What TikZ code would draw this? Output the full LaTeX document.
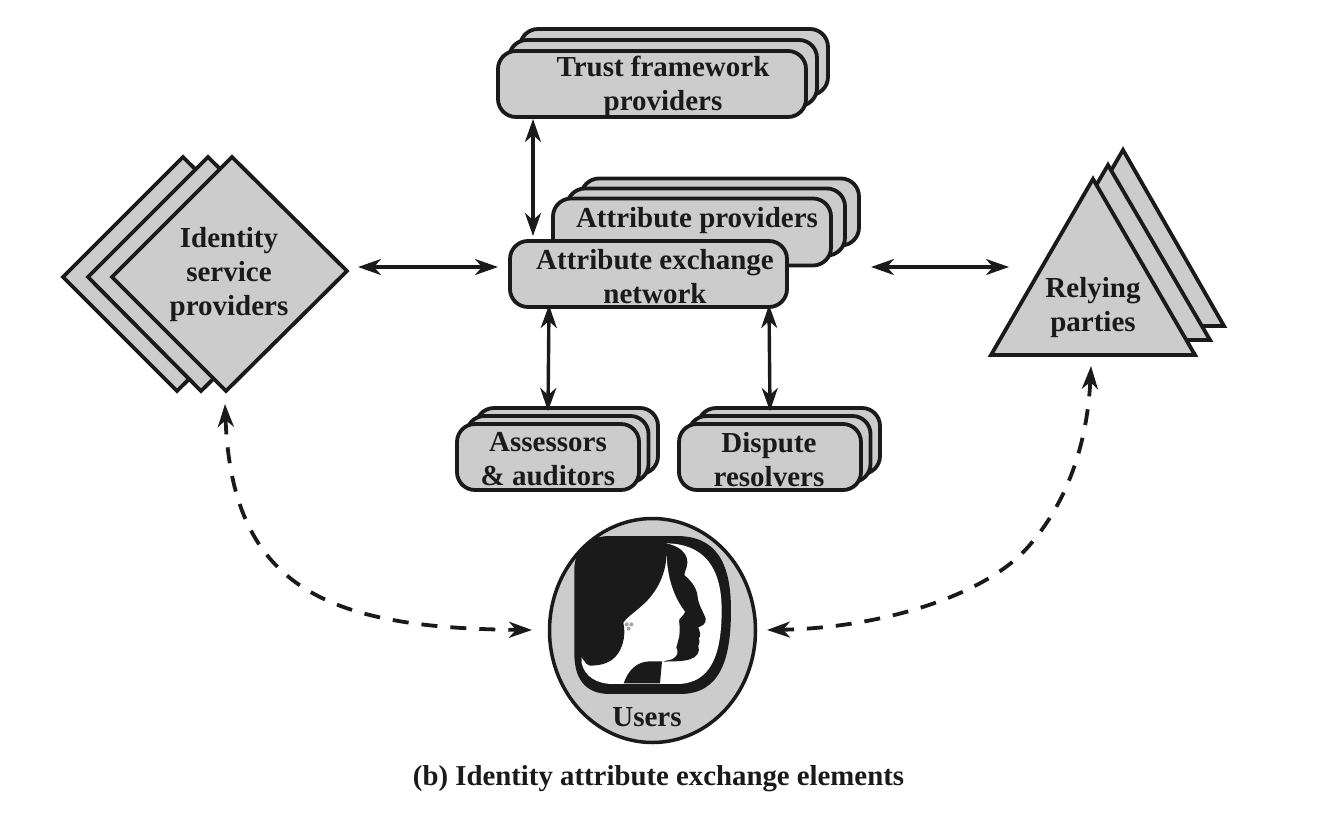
\documentclass[tikz,border=0pt]{standalone}
\usepackage{fontspec}
\setmainfont{Liberation Serif}
\usetikzlibrary{arrows.meta,shapes.geometric}
\definecolor{ink}{HTML}{1A1A1A}
\definecolor{panel}{HTML}{CCCCCC}
\tikzset{
  x=1pt,y=-1pt,
  box/.style={draw=ink,fill=panel,line width=3.8pt,rounded corners=18pt,inner sep=0pt,outer sep=0pt},
  shapeline/.style={draw=ink,fill=panel,line width=3.8pt,line join=miter},
  txt/.style={text=ink,font=\fontsize{29}{34}\selectfont\bfseries,align=center,inner sep=0pt},
  link/.style={draw=ink,line width=3.4pt,{Stealth[length=23pt,width=16pt,inset=7pt]}-{Stealth[length=23pt,width=16pt,inset=7pt]}},
  dlink/.style={draw=ink,line width=3.8pt,dash pattern=on 16pt off 13pt,{Stealth[length=23pt,width=16pt,inset=7pt]}-{Stealth[length=23pt,width=16pt,inset=7pt]}},
}
\begin{document}
\begin{tikzpicture}
\useasboundingbox (0,0) rectangle (1320,812);
% Trust framework providers
\node[box,minimum width=308pt,minimum height=66pt] (trust3) at (674,62) {};
\node[box,minimum width=308pt,minimum height=66pt] (trust2) at (663,73) {};
\node[box,minimum width=308pt,minimum height=66pt] (trust) at (652,84) {};
\node[txt] (trustt) at (663,86) {Trust framework\\providers};
% Attribute providers
\node[box,minimum width=278pt,minimum height=67pt] (attr3) at (720,212) {};
\node[box,minimum width=278pt,minimum height=67pt] (attr2) at (706,222) {};
\node[box,minimum width=278pt,minimum height=67pt] (attr) at (692,232) {};
\node[txt] (attrt) at (697,221) {Attribute providers};
% Exchange
\node[box,minimum width=277pt,minimum height=66pt] (exch) at (648.5,274) {};
\node[txt] (excht) at (655,276.5) {Attribute exchange\\network};
% Assessors
\node[box,minimum width=182pt,minimum height=66pt] (ass3) at (567,441) {};
\node[box,minimum width=182pt,minimum height=66pt] (ass2) at (557.5,449) {};
\node[box,minimum width=182pt,minimum height=66pt] (ass) at (548,457) {};
\node[txt] (asst) at (548,459.5) {Assessors\\\& auditors};
% Dispute
\node[box,minimum width=182pt,minimum height=66pt] (dis3) at (789,441) {};
\node[box,minimum width=182pt,minimum height=66pt] (dis2) at (779.5,449) {};
\node[box,minimum width=182pt,minimum height=66pt] (dis) at (770,457) {};
\node[txt] (dist) at (769,459.5) {Dispute\\resolvers};
% Identity service providers
\path[shapeline] (183,157) -- (298,271) -- (177,391) -- (63,277) -- cycle;
\path[shapeline] (208,157) -- (323,271) -- (201,391) -- (88,277) -- cycle;
\path[shapeline] (232,157) -- (347,271) -- (226,391) -- (112,277) -- cycle;
\node[txt] (ispt) at (229,275) {Identity\\service\\providers};
\coordinate (ispe) at (358,267);
\coordinate (isps) at (225,404);
% Relying parties
\path[shapeline] (1123,150) -- (1224,326) -- (1021,326) -- cycle;
\path[shapeline] (1108,165) -- (1210,340) -- (1006,340) -- cycle;
\path[shapeline] (1093,179) -- (1195,355) -- (991,355) -- cycle;
\node[txt] (relt) at (1093,307.5) {Relying\\parties};
\coordinate (relw) at (1009,267);
\coordinate (rels) at (1091,366);
\coordinate (relm) at (1028,547);
% Users
\node[draw=ink,fill=panel,line width=3.5pt,ellipse,minimum width=206pt,minimum height=224pt,inner sep=0pt,outer sep=0pt] (users) at (652.5,630.5) {};
\begin{scope}[shift={(530,520)},x=0.3333pt,y=-0.3333pt]
  \fill[ink] (240,48) -- (440,48) .. controls (560,48) and (603,130) .. (603,270)
    .. controls (603,420) and (570,522) .. (450,522) -- (240,522)
    .. controls (160,522) and (133,470) .. (133,400) -- (133,150)
    .. controls (133,90) and (170,48) .. (240,48) -- cycle;
  \fill[white] (250,70) -- (410,70) .. controls (520,72) and (575,140) .. (575,270)
    .. controls (575,400) and (545,492) .. (440,492) -- (250,492)
    .. controls (200,492) and (165,470) .. (155,430) -- (155,150) -- cycle;
  % second profile
  \fill[ink] (405,70) .. controls (445,75) and (475,100) .. (472,130)
    .. controls (470,150) and (462,155) .. (463,165)
    .. controls (480,180) and (500,200) .. (503,230)
    .. controls (505,255) and (520,275) .. (527,295)
    .. controls (530,312) and (515,318) .. (505,322)
    .. controls (512,340) and (512,350) .. (506,355)
    .. controls (512,365) and (506,372) .. (505,378)
    .. controls (512,395) and (500,412) .. (480,418)
    .. controls (465,423) and (445,424) .. (425,424)
    -- (400,425) -- (440,400) -- (430,250) -- (400,100) -- cycle;
  % front face (white)
  \fill[white] (410,105) .. controls (412,170) and (430,230) .. (465,275)
    .. controls (460,290) and (445,295) .. (447,303)
    .. controls (450,320) and (450,350) .. (444,362)
    .. controls (445,372) and (438,378) .. (438,383)
    .. controls (448,395) and (442,410) .. (425,418)
    -- (395,425) -- (300,425) -- (280,320) -- cycle;
  % shoulder
  \fill[ink] (281,490) .. controls (295,450) and (320,425) .. (360,424)
    -- (396,424) -- (390,490) -- cycle;
  % hair
  \fill[ink] (410,100) .. controls (408,170) and (375,225) .. (330,262)
    .. controls (310,280) and (290,292) .. (280,308)
    .. controls (290,350) and (275,400) .. (245,420)
    .. controls (225,434) and (200,437) .. (180,437)
    -- (170,432) -- (145,400) -- (145,150) -- (170,85) -- (230,60) -- (410,60) -- cycle;
  % earring
  \fill[panel!80!black] (290,313) circle[radius=6] (304,313) circle[radius=6] (296,326) circle[radius=6];
\end{scope}
\node[txt] (userst) at (647,717) {Users};
\coordinate (usw) at (532,630);
\coordinate (use) at (767,630);
% Caption
\node[txt,font=\fontsize{28.8}{34}\selectfont\bfseries] (caption) at (658.5,779) {(b) Identity attribute exchange elements};
% Connectors
\draw[link] ([shift={(35,2)}]trust.south west) -- ([shift={(23,-5)}]exch.north west);
\draw[link] (ispe) -- ([shift={(-12,-7)}]exch.west);
\draw[link] ([shift={(84,-7)}]exch.east) -- (relw);
\draw[link] ([shift={(39,-2)}]exch.south west) -- ([shift={(0,-13)}]ass.north);
\draw[link] ([shift={(-18,-2)}]exch.south east) -- ([shift={(0,-13)}]dis.north);
\draw[dlink] (isps) .. controls (232,590) and (330,628) .. (usw);
\draw[dlink] (rels) .. controls (1088,430) and (1074,495) .. (relm) .. controls (985,596) and (880,628) .. (use);
\end{tikzpicture}
\end{document}
